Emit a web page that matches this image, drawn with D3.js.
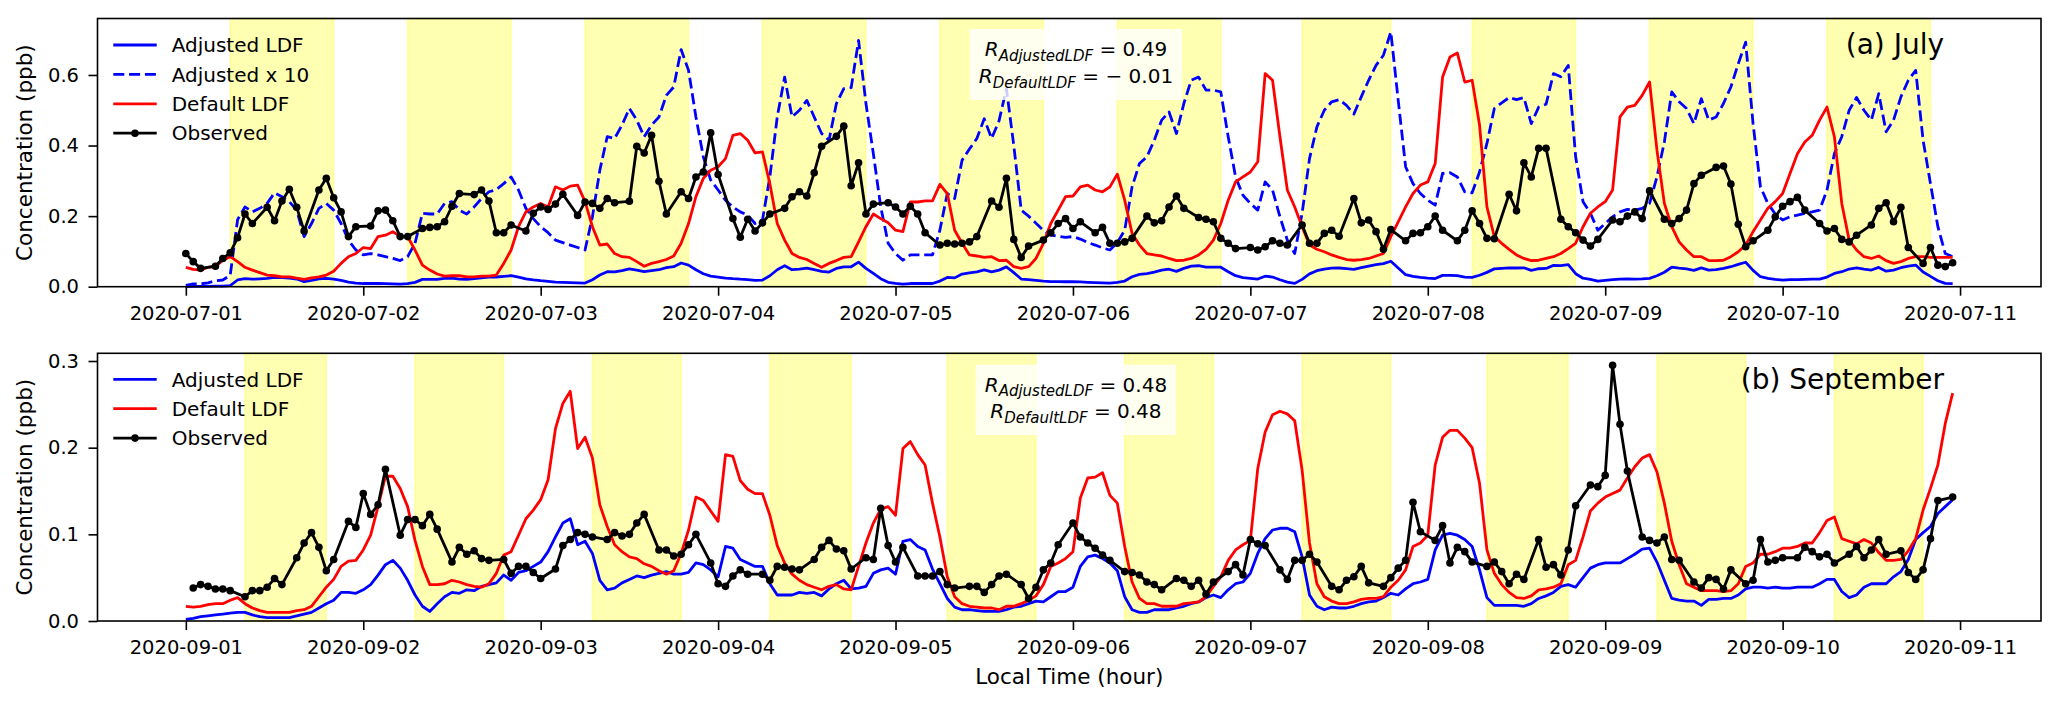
<!DOCTYPE html>
<html>
<head>
<meta charset="utf-8">
<script src="https://cdn.jsdelivr.net/npm/d3@7"></script>
<style>
  body { margin: 0; background: #fff; }
  svg text { font-family: "DejaVu Sans", sans-serif; fill: #000; }
</style>
</head>
<body>
<script>
// hourly values, index 0 = 00:00 local on the first tick day, one row per day
// null = no observation at that hour (line joins the neighbours)
const julyTicks = ["2020-07-01","2020-07-02","2020-07-03","2020-07-04","2020-07-05","2020-07-06",
                   "2020-07-07","2020-07-08","2020-07-09","2020-07-10","2020-07-11"];
const septTicks = ["2020-09-01","2020-09-02","2020-09-03","2020-09-04","2020-09-05","2020-09-06",
                   "2020-09-07","2020-09-08","2020-09-09","2020-09-10","2020-09-11"];

// daytime shading, [start hour, end hour]
const julyDaytime = [[6,20],[30,44],[54,68],[78,92],[102,116],[126,140],[151,163],[174,188],[198,212],[222,236]];
const septDaytime = [[8,19],[31,43],[55,67],[79,90],[103,115],[127,139],[151,163],[176,187],[199,211],[223,235]];

const julyAdjusted = [
  .0004,.0008,.0008,.0011,.0017,.0019,.0032,.0190,.0226,.0212,.0222,.0236,.0266,.0255,.0241,.0217,.0142,.0179,.0222,.0236,.0217,.0179,.0132,.0104,
  .0090,.0094,.0090,.0085,.0080,.0074,.0085,.0123,.0208,.0206,.0206,.0236,.0241,.0217,.0206,.0226,.0250,.0269,.0275,.0292,.0311,.0274,.0222,.0193,
  .0170,.0153,.0132,.0125,.0118,.0111,.0104,.0198,.0330,.0425,.0420,.0458,.0505,.0472,.0425,.0458,.0481,.0542,.0566,.0672,.0613,.0481,.0368,.0302,
  .0274,.0245,.0226,.0212,.0203,.0179,.0189,.0311,.0481,.0594,.0481,.0500,.0528,.0481,.0434,.0415,.0519,.0561,.0564,.0698,.0519,.0377,.0226,.0123,
  .0094,.0075,.0090,.0090,.0090,.0090,.0160,.0264,.0250,.0358,.0390,.0420,.0476,.0420,.0470,.0561,.0400,.0217,.0200,.0180,.0160,.0146,.0143,.0140,
  .0142,.0135,.0125,.0118,.0110,.0104,.0125,.0160,.0283,.0349,.0368,.0415,.0472,.0495,.0434,.0519,.0585,.0594,.0557,.0557,.0552,.0425,.0311,.0259,
  .0236,.0217,.0297,.0274,.0198,.0132,.0094,.0208,.0363,.0453,.0500,.0524,.0530,.0514,.0489,.0538,.0585,.0627,.0656,.0722,.0528,.0340,.0292,.0264,
  .0245,.0231,.0321,.0323,.0311,.0269,.0266,.0325,.0406,.0505,.0521,.0536,.0530,.0536,.0462,.0509,.0517,.0604,.0595,.0627,.0368,.0241,.0208,.0160,
  .0179,.0198,.0212,.0219,.0217,.0222,.0236,.0311,.0410,.0552,.0524,.0505,.0462,.0533,.0472,.0481,.0519,.0566,.0632,.0693,.0462,.0283,.0236,.0206,
  .0189,.0198,.0203,.0208,.0212,.0217,.0274,.0377,.0425,.0500,.0536,.0500,.0472,.0547,.0439,.0472,.0538,.0585,.0613,.0415,.0292,.0170,.0094,.0085
];
const julyDefault = [
  .055,.049,.047,.055,.057,.075,.085,.071,.055,.047,.040,.033,.031,.028,.028,.024,.021,.025,.028,.033,.044,.066,.085,.094,
  .111,.108,.142,.146,.156,.142,.142,.104,.061,.047,.036,.030,.031,.031,.028,.028,.030,.030,.033,.066,.104,.170,.212,.226,
  .236,.226,.283,.274,.285,.288,.241,.170,.118,.121,.094,.085,.083,.071,.058,.066,.071,.077,.087,.123,.179,.255,.307,.330,
  .340,.363,.429,.434,.415,.379,.382,.292,.179,.132,.094,.083,.077,.066,.055,.066,.074,.083,.085,.127,.170,.206,.193,.181,
  .160,.156,.240,.240,.243,.243,.290,.264,.160,.123,.090,.087,.083,.085,.074,.075,.057,.052,.057,.080,.123,.179,.217,.255,
  .257,.283,.288,.274,.269,.283,.319,.245,.151,.118,.094,.090,.087,.080,.074,.075,.080,.090,.106,.132,.179,.245,.297,.311,
  .325,.354,.604,.585,.425,.274,.226,.170,.118,.106,.099,.090,.083,.077,.075,.077,.080,.087,.094,.142,.184,.226,.264,.288,
  .297,.349,.594,.651,.662,.580,.585,.458,.226,.142,.123,.106,.090,.080,.074,.075,.080,.085,.094,.108,.123,.170,.208,.226,
  .241,.274,.481,.509,.514,.542,.580,.387,.236,.170,.127,.104,.085,.085,.074,.074,.075,.085,.099,.118,.156,.189,.222,.241,
  .264,.321,.377,.410,.429,.472,.509,.425,.236,.132,.104,.085,.080,.087,.074,.066,.071,.080,.085,.085,.083,.083,.083,.083
];
const julyObserved = [
  .094,.071,.052,null,.058,.080,.096,.139,.206,.179,null,.225,.187,.243,.276,.225,.158,null,.274,.307,.252,.212,.142,.170,
  null,.172,.215,.217,.187,.142,.142,null,.165,.168,.170,.184,.228,.264,null,.261,.274,.243,.153,.153,.175,null,.158,.208,
  .226,.219,.234,.262,null,.202,.240,.236,.222,.250,.238,null,.242,.398,.379,.429,.299,.206,null,.269,.250,.311,.325,.436,
  .318,null,.193,.140,.191,.158,.181,.206,null,.222,.255,.269,.257,.323,.398,null,.426,.455,.286,.351,.206,.234,null,.238,
  .226,.206,.228,.206,.153,null,.118,.123,.121,.123,.127,.142,null,.243,.225,.307,.134,.083,.115,null,.132,.153,.179,.193,
  .165,.184,null,.153,.168,.123,.123,.127,.137,null,.200,.181,.187,.226,.257,.222,null,.196,.191,.184,.137,.123,.108,null,
  .111,.104,.113,.130,.123,.118,null,.175,.123,.123,.151,.160,.143,null,.250,.181,.189,.156,.106,.162,null,.130,.151,.153,
  .170,.200,.160,null,.130,.160,.215,.179,.137,.136,null,.262,.215,.351,.311,.392,.392,null,.191,.170,.153,.132,.115,.134,
  null,.189,.184,.200,.212,.193,.272,null,.191,.179,.193,.217,.292,.316,null,.338,.342,.291,.177,.113,.130,null,.160,.198,
  .228,.241,.253,.217,null,.179,.158,.165,.134,.127,.146,null,.175,.222,.238,.184,.225,.111,null,.066,.111,.061,.057,.068
];

const septAdjusted = [
  .002,.003,.005,.006,.007,.008,.009,.010,.010,.007,.005,.004,.004,.004,.004,.006,.008,.010,.015,.020,.024,.033,.033,.032,
  .036,.042,.053,.065,.070,.061,.047,.030,.017,.011,.020,.028,.033,.032,.036,.035,.040,.042,.044,.053,.047,.056,.058,.063,
  .068,.080,.097,.113,.118,.088,.092,.078,.047,.036,.038,.044,.048,.052,.050,.053,.055,.057,.054,.054,.056,.067,.065,.059,
  .051,.086,.084,.071,.067,.063,.063,.043,.030,.030,.030,.033,.032,.033,.029,.037,.043,.047,.037,.038,.040,.055,.059,.061,
  .054,.092,.094,.086,.082,.060,.043,.026,.016,.013,.013,.012,.011,.011,.011,.013,.016,.017,.020,.023,.022,.028,.034,.034,
  .039,.063,.074,.076,.072,.067,.058,.028,.013,.010,.010,.013,.013,.013,.015,.017,.020,.022,.027,.030,.027,.036,.043,.045,
  .055,.078,.095,.105,.107,.107,.103,.074,.030,.017,.013,.016,.015,.015,.017,.020,.022,.023,.027,.032,.030,.037,.043,.045,
  .048,.082,.099,.101,.099,.094,.086,.059,.027,.018,.018,.018,.018,.017,.020,.026,.029,.033,.040,.042,.039,.050,.061,.065,
  .067,.067,.067,.072,.077,.083,.084,.068,.047,.026,.024,.023,.023,.018,.025,.025,.026,.026,.030,.037,.039,.039,.038,.039,
  .038,.038,.039,.039,.039,.043,.048,.048,.034,.027,.030,.039,.043,.043,.043,.051,.057,.071,.094,.102,.109,.124,.132,.140
];
const septDefault = [
  .017,.016,.017,.019,.020,.020,.024,.027,.020,.015,.012,.010,.010,.010,.010,.012,.013,.017,.028,.039,.048,.063,.069,.070,
  .082,.099,.132,.167,.167,.153,.132,.093,.063,.042,.042,.043,.047,.045,.042,.040,.039,.043,.055,.076,.080,.099,.118,.128,
  .140,.163,.222,.251,.265,.199,.212,.188,.134,.109,.088,.080,.074,.072,.066,.063,.058,.054,.058,.078,.105,.143,.139,.127,
  .115,.192,.190,.162,.152,.147,.147,.122,.087,.067,.054,.047,.042,.039,.036,.040,.042,.037,.036,.063,.090,.113,.129,.132,
  .122,.199,.207,.192,.180,.136,.097,.051,.028,.020,.017,.016,.015,.015,.013,.017,.017,.020,.024,.029,.042,.063,.067,.072,
  .080,.142,.165,.166,.171,.145,.136,.086,.045,.026,.020,.020,.017,.017,.017,.020,.021,.022,.028,.040,.051,.070,.082,.088,
  .093,.176,.218,.238,.242,.239,.231,.174,.090,.043,.028,.023,.020,.020,.022,.025,.026,.026,.028,.039,.047,.059,.086,.090,
  .099,.180,.212,.220,.220,.211,.200,.159,.082,.055,.042,.033,.027,.026,.029,.036,.037,.039,.043,.065,.070,.097,.127,.136,
  .143,.147,.151,.165,.178,.188,.192,.172,.136,.092,.065,.043,.039,.035,.035,.035,.034,.035,.043,.063,.067,.077,.077,.080,
  .084,.084,.086,.090,.090,.102,.116,.120,.095,.092,.089,.094,.090,.079,.070,.070,.071,.081,.095,.128,.153,.180,.228,.263
];
const septObserved = [
  null,.038,.042,.040,.037,.037,.035,null,.028,.035,.035,.039,.049,.042,null,.073,.090,.102,.085,.058,.071,null,.115,.108,
  .147,.123,.134,.175,null,.099,.117,.117,.110,.123,.106,null,.068,.085,.077,.081,.072,.070,null,.071,.055,.063,.063,.056,
  .049,null,.060,.087,.094,.102,.100,.097,null,.094,.102,.098,.100,.113,.123,null,.082,.082,.075,.077,.088,.100,null,.067,
  .043,.040,.052,.059,.054,null,.054,.047,.063,.062,.060,.059,null,.071,.085,.093,.083,.081,.060,null,.073,.071,.130,.087,
  .068,.085,null,.052,.052,.052,.057,.042,.038,null,.040,.040,.033,.042,.052,.054,null,.042,.026,.039,.059,.067,.088,null,
  .113,.097,.090,.084,.076,.070,null,.057,.056,.053,.045,.042,.036,null,.049,.047,.040,.047,.031,.045,null,.057,.065,.053,
  .094,.089,.087,null,.059,.048,.070,.070,.077,.068,null,.040,.036,.047,.051,.063,.044,null,.040,.050,.061,.070,.137,.103,
  null,.093,.110,.067,.085,.080,.068,null,.063,.068,.057,.043,.054,.048,null,.094,.062,.065,.053,.082,.133,null,.157,.155,
  .168,.295,.227,.173,null,.097,.093,.090,.097,.071,.070,null,.045,.038,.050,.048,.037,.059,null,.043,.047,.094,.068,.070,
  .073,null,.073,.085,.080,.074,.077,.067,null,.077,.086,.073,.082,.094,.077,null,.081,.056,.048,.059,.095,.139,null,.143
];

const ADJ_SCALE = 10;  // "Adjusted x 10" curve

window.addEventListener('DOMContentLoaded', () => {
  const W = 2067, H = 706;
  const PLOT_LEFT = 97.5, PLOT_RIGHT = 2041;
  const HOUR = 3600 * 1000;
  const parseDay = d3.timeParse("%Y-%m-%d");
  const fmtDay = d3.timeFormat("%Y-%m-%d");
  const BLUE = "#0000ff", RED = "#ff0000", BLACK = "#000000";

  let svg = d3.select("body").append("svg")
              .attr("width", W)
              .attr("height", H);

  const panels = [
    { top: 18.5, bottom: 286.7, ymax: 0.76, yticks: [0, 0.2, 0.4, 0.6],
      ticks: julyTicks, bands: julyDaytime,
      adjusted: julyAdjusted, def: julyDefault, obs: julyObserved, showScaled: true,
      title: "(a) July", titleY: 54,
      stats: [["AdjustedLDF", "0.49"], ["DefaultLDF", "\u2212 0.01"]], statsY: [56, 83.3],
      legendY: 45 },
    { top: 353.3, bottom: 621, ymax: 0.3089, yticks: [0, 0.1, 0.2, 0.3],
      ticks: septTicks, bands: septDaytime,
      adjusted: septAdjusted, def: septDefault, obs: septObserved, showScaled: false,
      title: "(b) September", titleY: 389,
      stats: [["AdjustedLDF", "0.48"], ["DefaultLDF", "0.48"]], statsY: [391.7, 418.3],
      legendY: 379.3 }
  ];

  function styleAxis(sel) {
    sel.attr("font-size", null).attr("font-family", null);
    sel.select(".domain").remove();
    sel.selectAll(".tick line").attr("stroke", BLACK).attr("stroke-width", 1.6);
    sel.selectAll(".tick text").attr("font-size", 19.5).attr("fill", BLACK);
  }

  panels.forEach(p => {
    const start = parseDay(p.ticks[0]);
    const at = h => new Date(+start + h * HOUR);
    const x = d3.scaleTime()
                .domain([at(-11.95), at(250.95)])
                .range([PLOT_LEFT, PLOT_RIGHT]);
    const y = d3.scaleLinear()
                .domain([0, p.ymax])
                .range([p.bottom, p.top]);
    const g = svg.append("g");

    // daytime shading
    g.append("g")
     .selectAll("rect")
     .data(p.bands)
     .enter()
     .append("rect")
     .attr("x", d => x(at(d[0])))
     .attr("width", d => x(at(d[1])) - x(at(d[0])))
     .attr("y", p.top)
     .attr("height", p.bottom - p.top)
     .attr("fill", "rgba(255,255,0,0.3)")
     .attr("stroke", "rgba(255,255,0,0.3)")
     .attr("stroke-width", 1.5);

    const pts = (vals, k) => vals.map((v, h) => ({ h: h, v: v == null ? null : v * k }))
                                 .filter(d => d.v != null);
    const line = d3.line().x(d => x(at(d.h))).y(d => y(d.v));

    const drawLine = (data, color, dash) => {
      g.append("path")
       .datum(data)
       .attr("d", line)
       .attr("fill", "none")
       .attr("stroke", color)
       .attr("stroke-width", 2.8)
       .attr("stroke-linejoin", "round")
       .attr("stroke-dasharray", dash || null);
    };

    drawLine(pts(p.adjusted, 1), BLUE);
    if (p.showScaled) drawLine(pts(p.adjusted, ADJ_SCALE), BLUE, "11,4.8");
    drawLine(pts(p.def, 1), RED);
    const obs = pts(p.obs, 1);
    drawLine(obs, BLACK);
    g.append("g")
     .selectAll("circle")
     .data(obs)
     .enter()
     .append("circle")
     .attr("cx", d => x(at(d.h)))
     .attr("cy", d => y(d.v))
     .attr("r", 3.8)
     .attr("fill", BLACK);

    // correlation box
    const cx = (x(at(0)) + x(at(240))) / 2 + 3;
    const box = g.append("g");
    const boxText = box.append("g");
    p.stats.forEach((s, i) => {
      const t = boxText.append("text")
                       .attr("x", cx)
                       .attr("y", p.statsY[i])
                       .attr("text-anchor", "middle")
                       .attr("font-size", 20);
      t.append("tspan").attr("font-style", "italic").text("R");
      t.append("tspan").attr("font-style", "italic").attr("font-size", 15).attr("dy", 4.7).text(s[0]);
      t.append("tspan").attr("dy", -4.7).text(" = " + s[1]);
    });
    const bb = boxText.node().getBBox();
    box.insert("rect", ":first-child")
       .attr("x", bb.x - 9)
       .attr("y", bb.y - 8)
       .attr("width", bb.width + 18)
       .attr("height", bb.height + 16)
       .attr("fill", "rgba(255,255,255,0.8)");

    // axes
    g.append("g")
     .attr("transform", `translate(0,${p.bottom})`)
     .call(d3.axisBottom(x)
             .tickValues(p.ticks.map(parseDay))
             .tickFormat(fmtDay)
             .tickSize(9)
             .tickPadding(10))
     .call(styleAxis);
    g.append("g")
     .attr("transform", `translate(${PLOT_LEFT},0)`)
     .call(d3.axisLeft(y)
             .tickValues(p.yticks)
             .tickFormat(d3.format(".1f"))
             .tickSize(9)
             .tickPadding(9.5))
     .call(styleAxis);
    g.append("rect")
     .attr("x", PLOT_LEFT)
     .attr("y", p.top)
     .attr("width", PLOT_RIGHT - PLOT_LEFT)
     .attr("height", p.bottom - p.top)
     .attr("fill", "none")
     .attr("stroke", BLACK)
     .attr("stroke-width", 1.6);

    g.append("text")
     .attr("transform", `translate(31.5,${(p.top + p.bottom) / 2}) rotate(-90)`)
     .attr("text-anchor", "middle")
     .attr("font-size", 21.5)
     .text("Concentration (ppb)");

    g.append("text")
     .attr("x", 1944)
     .attr("y", p.titleY)
     .attr("text-anchor", "end")
     .attr("font-size", 28)
     .text(p.title);

    // legend
    const entries = [{ label: "Adjusted LDF", color: BLUE }];
    if (p.showScaled) entries.push({ label: "Adjusted x 10", color: BLUE, dash: "11,4.8" });
    entries.push({ label: "Default LDF", color: RED });
    entries.push({ label: "Observed", color: BLACK, marker: true });
    const lg = g.append("g")
                .selectAll("g")
                .data(entries)
                .enter()
                .append("g")
                .attr("transform", (d, i) => `translate(0,${p.legendY + i * 29.4})`);
    lg.append("line")
      .attr("x1", 113.3).attr("x2", 156.7)
      .attr("stroke", d => d.color)
      .attr("stroke-width", 2.8)
      .attr("stroke-dasharray", d => d.dash || null);
    lg.filter(d => d.marker)
      .append("circle")
      .attr("cx", 135).attr("r", 3.8).attr("fill", BLACK);
    lg.append("text")
      .attr("x", 171.7)
      .attr("dy", "0.36em")
      .attr("font-size", 20)
      .text(d => d.label);
  });

  svg.append("text")
     .attr("x", (PLOT_LEFT + PLOT_RIGHT) / 2)
     .attr("y", 684)
     .attr("text-anchor", "middle")
     .attr("font-size", 21.5)
     .text("Local Time (hour)");
});
</script>
</body>
</html>
